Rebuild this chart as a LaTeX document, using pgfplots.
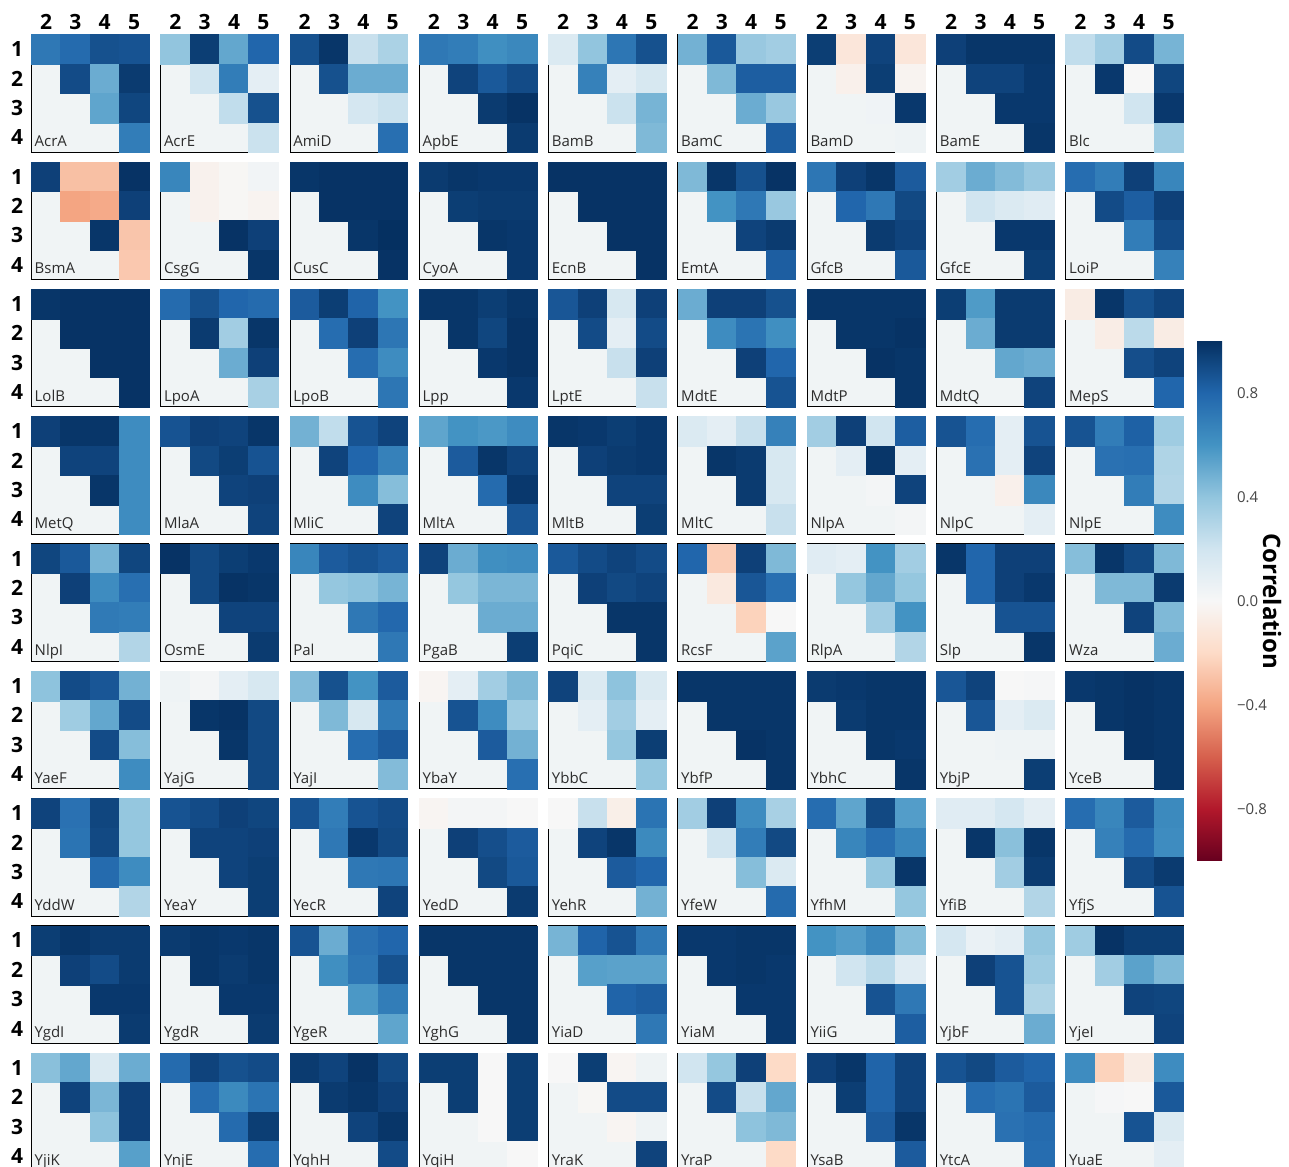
\documentclass[border=0pt]{standalone}
\usepackage{fontspec}
\setmainfont{Open Sans}
\usepackage{pgfplots}
\usepackage{pgfplotstable}
\pgfplotsset{compat=1.18}
\definecolor{bgc}{RGB}{240,244,245}
\definecolor{namegray}{RGB}{45,45,45}
\definecolor{cbgray}{RGB}{70,70,70}

\pgfplotstableread{
name a12 a13 a14 a15 a23 a24 a25 a34 a35 a45
AcrA 0.72 0.78 0.88 0.87 0.90 0.50 0.96 0.53 0.92 0.70
AcrE 0.40 0.95 0.52 0.80 0.20 0.70 0.10 0.25 0.88 0.22
AmiD 0.88 0.98 0.23 0.32 0.88 0.50 0.50 0.18 0.22 0.76
ApbE 0.72 0.70 0.62 0.65 0.93 0.85 0.90 0.96 0.99 0.96
BamB 0.15 0.40 0.73 0.88 0.68 0.10 0.17 0.22 0.47 0.45
BamC 0.48 0.85 0.38 0.35 0.45 0.83 0.83 0.50 0.38 0.83
BamD 0.95 -0.12 0.93 -0.12 -0.05 0.95 -0.03 0.04 0.97 0.05
BamE 0.94 0.98 0.98 0.98 0.93 0.93 0.97 0.97 0.97 0.98
Blc 0.25 0.35 0.90 0.47 0.97 0.00 0.92 0.20 0.97 0.36
BsmA 0.94 -0.30 -0.30 0.99 -0.40 -0.38 0.94 0.98 -0.28 -0.27
CsgG 0.66 -0.04 -0.01 0.03 -0.04 -0.01 -0.03 0.99 0.94 0.98
CusC 0.98 0.99 0.99 0.99 0.99 0.99 0.99 0.98 1.00 0.99
CyoA 0.96 0.98 0.97 0.97 0.95 0.96 0.96 0.98 0.97 0.97
EcnB 0.99 0.99 0.99 0.99 0.99 0.99 0.99 0.99 0.99 0.99
EmtA 0.45 0.98 0.88 0.99 0.60 0.72 0.38 0.93 0.96 0.83
GfcB 0.73 0.94 0.98 0.84 0.80 0.72 0.91 0.96 0.93 0.85
GfcE 0.35 0.50 0.44 0.38 0.20 0.15 0.12 0.97 0.97 0.95
LoiP 0.77 0.70 0.94 0.66 0.90 0.83 0.94 0.70 0.90 0.68
LolB 0.98 0.99 0.99 0.99 0.99 0.99 0.99 0.99 0.99 0.99
LpoA 0.78 0.88 0.80 0.78 0.96 0.35 0.98 0.50 0.94 0.33
LpoB 0.84 0.95 0.81 0.60 0.77 0.94 0.73 0.77 0.63 0.73
Lpp 0.98 0.98 0.95 0.98 0.98 0.92 0.99 0.97 0.99 0.97
LptE 0.86 0.94 0.17 0.94 0.90 0.10 0.90 0.23 0.94 0.23
MdtE 0.50 0.94 0.94 0.88 0.63 0.74 0.62 0.94 0.80 0.87
MdtP 0.98 0.98 0.98 0.98 0.98 0.98 0.99 0.99 0.98 0.98
MdtQ 0.95 0.57 0.96 0.96 0.50 0.96 0.96 0.52 0.50 0.93
MepS -0.08 0.98 0.88 0.93 -0.07 0.27 -0.08 0.89 0.93 0.80
MetQ 0.94 0.98 0.98 0.63 0.93 0.93 0.63 0.98 0.63 0.63
MlaA 0.87 0.94 0.93 0.98 0.91 0.95 0.87 0.93 0.94 0.93
MliC 0.48 0.25 0.87 0.93 0.93 0.80 0.68 0.63 0.43 0.93
MltA 0.53 0.60 0.58 0.63 0.84 0.98 0.93 0.78 0.97 0.86
MltB 0.98 0.97 0.95 0.97 0.94 0.96 0.97 0.93 0.93 0.95
MltC 0.15 0.10 0.23 0.68 0.98 0.96 0.17 0.96 0.17 0.23
NlpA 0.35 0.94 0.20 0.83 0.10 0.98 0.10 0.02 0.93 0.02
NlpC 0.87 0.77 0.10 0.87 0.75 0.10 0.93 -0.05 0.65 0.10
NlpE 0.87 0.70 0.82 0.36 0.75 0.76 0.31 0.70 0.30 0.63
NlpI 0.92 0.85 0.47 0.92 0.94 0.63 0.76 0.71 0.70 0.30
OsmE 0.99 0.91 0.95 0.97 0.91 0.99 0.98 0.93 0.93 0.96
Pal 0.66 0.84 0.87 0.84 0.39 0.41 0.47 0.72 0.79 0.72
PgaB 0.93 0.50 0.62 0.63 0.39 0.46 0.46 0.50 0.50 0.95
PqiC 0.85 0.90 0.93 0.90 0.94 0.91 0.93 0.98 0.98 0.98
RcsF 0.80 -0.25 0.94 0.45 -0.10 0.86 0.76 -0.23 0.00 0.54
RlpA 0.12 0.10 0.60 0.35 0.39 0.52 0.39 0.35 0.60 0.30
Slp 0.98 0.80 0.94 0.94 0.80 0.94 0.97 0.87 0.87 0.98
Wza 0.43 0.98 0.91 0.45 0.45 0.45 0.96 0.93 0.45 0.50
YaeF 0.41 0.90 0.86 0.48 0.36 0.52 0.90 0.90 0.43 0.63
YajG 0.05 0.02 0.10 0.17 0.98 0.99 0.91 0.98 0.91 0.91
YajI 0.44 0.88 0.60 0.84 0.45 0.17 0.71 0.77 0.84 0.44
YbaY -0.02 0.10 0.35 0.45 0.87 0.63 0.36 0.84 0.48 0.76
YbbC 0.93 0.15 0.41 0.15 0.10 0.35 0.10 0.39 0.95 0.39
YbfP 0.98 0.98 0.98 0.98 0.98 0.98 0.98 0.99 0.98 0.98
YbhC 0.96 0.97 0.98 0.98 0.96 0.98 0.98 0.98 0.97 0.98
YbjP 0.86 0.93 0.00 0.01 0.86 0.10 0.15 0.05 0.05 0.95
YceB 0.97 0.98 0.99 0.98 0.98 0.99 0.98 0.99 0.98 0.98
YddW 0.93 0.75 0.92 0.39 0.74 0.91 0.39 0.78 0.63 0.30
YeaY 0.87 0.90 0.94 0.92 0.93 0.93 0.94 0.93 0.95 0.95
YecR 0.87 0.70 0.87 0.90 0.72 0.97 0.91 0.72 0.73 0.93
YedD -0.02 0.02 0.02 0.00 0.94 0.89 0.84 0.91 0.85 0.96
YehR 0.00 0.23 -0.06 0.74 0.93 0.98 0.64 0.84 0.80 0.48
YfeW 0.35 0.94 0.63 0.33 0.20 0.70 0.91 0.43 0.15 0.78
YfhM 0.77 0.53 0.91 0.56 0.66 0.76 0.66 0.39 0.98 0.39
YfiB 0.12 0.12 0.18 0.10 0.98 0.42 0.98 0.35 0.96 0.30
YfjS 0.77 0.66 0.84 0.64 0.68 0.78 0.63 0.90 0.96 0.87
YgdI 0.95 0.98 0.96 0.96 0.94 0.90 0.96 0.97 0.97 0.96
YgdR 0.96 0.98 0.97 0.98 0.98 0.96 0.98 0.97 0.97 0.96
YgeR 0.87 0.50 0.75 0.80 0.62 0.73 0.88 0.58 0.70 0.53
YghG 0.98 0.98 0.98 0.98 0.98 0.98 0.98 0.98 0.98 0.98
YiaD 0.47 0.81 0.87 0.72 0.55 0.54 0.54 0.81 0.83 0.72
YiaM 0.97 0.97 0.98 0.98 0.97 0.98 0.97 0.97 0.97 0.97
YiiG 0.60 0.56 0.65 0.43 0.20 0.27 0.12 0.87 0.72 0.83
YjbF 0.18 0.07 0.10 0.39 0.94 0.87 0.36 0.87 0.31 0.50
YjeI 0.36 0.99 0.95 0.95 0.35 0.54 0.45 0.93 0.92 0.93
YjiK 0.42 0.52 0.15 0.50 0.93 0.46 0.94 0.41 0.94 0.55
YnjE 0.78 0.93 0.88 0.90 0.77 0.64 0.74 0.78 0.95 0.77
YqhH 0.96 0.93 0.99 0.91 0.96 0.98 0.94 0.93 0.98 0.90
YqiH 0.95 0.95 0.00 0.95 0.95 0.00 0.95 0.00 0.95 0.00
YraK 0.00 0.95 -0.02 0.05 -0.01 0.90 0.90 -0.02 0.05 0.93
YraP 0.20 0.39 0.94 -0.20 0.90 0.23 0.52 0.41 0.45 -0.20
YsaB 0.94 0.98 0.81 0.93 0.95 0.81 0.93 0.84 0.98 0.84
YtcA 0.87 0.91 0.84 0.81 0.77 0.74 0.84 0.75 0.78 0.77
YuaE 0.63 -0.23 -0.08 0.63 0.01 0.00 0.85 0.87 0.15 0.10
}\data

% panel row and column from the row index (rounding-safe)
\def\PR{floor((\coordindex+0.5)/9)}
\def\PC{(\coordindex-9*floor((\coordindex+0.5)/9))}

% cell plot: row r, column c, table column
\newcommand\cellplot[3]{%
  \addplot[scatter, only marks, mark=square*, mark size=7.4pt,
    point meta=explicit,
    scatter/use mapped color={draw=mapped color, fill=mapped color},
    mark options={line width=0.15pt}]
    table[x expr={31.3+129.3*\PC+(#2-1.5)*29.375},
          y expr={-(34.7+127.3*\PR+(#1-0.5)*29.375)},
          meta=#3] {\data};}

\begin{document}
\begin{tikzpicture}
\begin{axis}[
  scale only axis, width=644.5pt, height=583pt,
  xmin=0, xmax=1289, ymin=-1166, ymax=0,
  axis line style={draw=none}, tick style={draw=none},
  clip marker paths=true,
  colormap={rdbu}{rgb255=(103,0,31) rgb255=(178,24,43) rgb255=(214,96,77) rgb255=(244,165,130) rgb255=(253,219,199) rgb255=(247,247,247) rgb255=(209,229,240) rgb255=(146,197,222) rgb255=(67,147,195) rgb255=(33,102,172) rgb255=(5,48,97)},
  point meta min=-1, point meta max=1,
  xtick={46.0,75.4,104.7,134.1,175.3,204.7,234.0,263.4,304.6,334.0,363.3,392.7,433.9,463.3,492.6,522.0,563.2,592.6,621.9,651.3,692.5,721.9,751.2,780.6,821.8,851.2,880.5,909.9,951.1,980.5,1009.8,1039.2,1080.4,1109.8,1139.1,1168.5},
  xticklabels={2,3,4,5,2,3,4,5,2,3,4,5,2,3,4,5,2,3,4,5,2,3,4,5,2,3,4,5,2,3,4,5,2,3,4,5},
  xticklabel pos=upper,
  xticklabel style={anchor=base, yshift=-15pt, font=\bfseries\fontsize{10.5}{12}\selectfont},
  ytick={-49.4,-78.8,-108.1,-137.5,-176.7,-206.1,-235.4,-264.8,-304.0,-333.4,-362.7,-392.1,-431.3,-460.7,-490.0,-519.4,-558.6,-588.0,-617.3,-646.7,-685.9,-715.3,-744.6,-774.0,-813.2,-842.6,-871.9,-901.3,-940.5,-969.9,-999.2,-1028.6,-1067.8,-1097.2,-1126.5,-1155.9},
  yticklabels={1,2,3,4,1,2,3,4,1,2,3,4,1,2,3,4,1,2,3,4,1,2,3,4,1,2,3,4,1,2,3,4,1,2,3,4},
  yticklabel style={anchor=center, xshift=8.5pt, font=\bfseries\fontsize{10.5}{12}\selectfont},
  colorbar,
  colorbar style={
    at={(parent axis.north west)}, anchor=north west,
    xshift=590pt, yshift=-170.5pt,
    scale only axis, width=12.5pt, height=260pt,
    axis line style={draw=none}, tick style={draw=none},
    ytick={-0.8,-0.4,0,0.4,0.8},
    yticklabels={−0.8,−0.4,0.0,0.4,0.8},
    yticklabel style={font=\fontsize{7.5}{9}\selectfont, text=cbgray, xshift=4pt},
    ylabel={Correlation},
    ylabel style={at={(axis description cs:3.0,0.5)}, anchor=center, rotate=180,
      inner sep=0pt, font=\bfseries\fontsize{12}{14}\selectfont},
  },
]
% panel backgrounds (empty cells)
\addplot[only marks, mark=square*, mark size=29.375pt, mark options={fill=bgc, draw=none}]
  table[x expr={31.3+129.3*\PC+58.75},
        y expr={-(34.7+127.3*\PR+58.75)}] {\data};
\cellplot{1}{2}{a12}
\cellplot{1}{3}{a13}
\cellplot{1}{4}{a14}
\cellplot{1}{5}{a15}
\cellplot{2}{3}{a23}
\cellplot{2}{4}{a24}
\cellplot{2}{5}{a25}
\cellplot{3}{4}{a34}
\cellplot{3}{5}{a35}
\cellplot{4}{5}{a45}
% panel names
\addplot[draw=none, mark=none, nodes near coords, point meta=explicit symbolic,
  nodes near coords align={anchor=base west},
  every node near coord/.append style={font=\fontsize{7.5}{9}\selectfont, text=namegray, inner sep=0pt}]
  table[x expr={31.3+129.3*\PC+3},
        y expr={-(34.7+127.3*\PR+112)}, meta=name] {\data};
\end{axis}
\pgfresetboundingbox
\path[use as bounding box] (0pt,0pt) rectangle (644.5pt,583pt);
\end{tikzpicture}
\end{document}
